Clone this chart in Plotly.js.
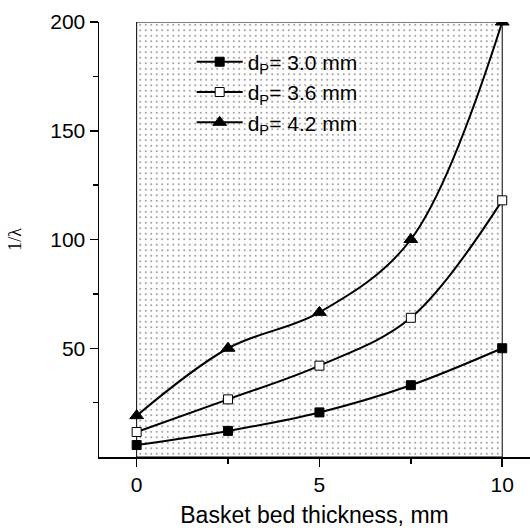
<!DOCTYPE html>
<html>
<head>
<meta charset="utf-8">
<script src="https://cdn.plot.ly/plotly-3.0.1.min.js"></script>
<style>html,body{margin:0;padding:0;background:#fff;}#chart{width:530px;height:528px;}</style>
</head>
<body>
<div id="chart"></div>
<script>
const thickness = [0, 2.5, 5, 7.5, 10];
const dp30 = [5.5, 12, 20.5, 33, 50];
const dp36 = [11.5, 26.5, 42, 64, 118];
const dp42 = [19, 50, 66.5, 100, 200];
const seriesNames = ["d<sub>P</sub>= 3.0 mm", "d<sub>P</sub>= 3.6 mm", "d<sub>P</sub>= 4.2 mm"];
const xTicks = [0, 5, 10];
const yTicks = [50, 100, 150, 200];
const boxX = [0, 10, 10, 0, 0];
const boxY = [0, 0, 200, 200, 0];

const font = "Liberation Sans, Arial, sans-serif";
const traces = [
  {x: boxX, y: boxY, mode: "lines", fill: "toself", fillcolor: "white",
   fillpattern: {shape: ".", size: 5.5, solidity: 0.06, fgcolor: "#333", bgcolor: "white"},
   line: {color: "black", width: 1}, showlegend: false, hoverinfo: "skip"},
  {x: thickness, y: dp30, name: seriesNames[0], mode: "lines+markers",
   line: {shape: "spline", color: "black", width: 2},
   marker: {symbol: "square", size: 9, color: "black", line: {color: "black", width: 1}}},
  {x: thickness, y: dp36, name: seriesNames[1], mode: "lines+markers",
   line: {shape: "spline", color: "black", width: 2},
   marker: {symbol: "square", size: 9, color: "white", line: {color: "black", width: 1}}},
  {x: thickness, y: dp42, name: seriesNames[2], mode: "lines+markers",
   line: {shape: "spline", color: "black", width: 2},
   marker: {symbol: "triangle-up", size: 12, color: "black", line: {color: "black", width: 1}}}
];

const layout = {
  width: 530, height: 528,
  margin: {l: 99, r: 0, t: 22, b: 71},
  paper_bgcolor: "white", plot_bgcolor: "white",
  font: {family: font, size: 21, color: "black"},
  showlegend: true,
  legend: {x: 0.215, y: 0.955, xanchor: "left", yanchor: "top", bgcolor: "rgba(0,0,0,0)",
           font: {family: font, size: 21}, itemwidth: 46, tracegroupgap: 0},
  xaxis: {range: [-1.03, 10.76], tickvals: xTicks, ticktext: xTicks.map(String),
          showgrid: false, zeroline: false, showline: true, linecolor: "black", linewidth: 1.5,
          ticks: "outside", ticklen: 8, tickcolor: "black", tickwidth: 1.5,
          minor: {dtick: 2.5, tick0: 0, ticks: "outside", ticklen: 5, tickcolor: "black", tickwidth: 1.5, showgrid: false},
          tickfont: {size: 21},
          title: {text: "Basket bed thickness, mm", font: {size: 23}, standoff: 12}},
  yaxis: {range: [0, 200], tickvals: yTicks, ticktext: yTicks.map(String),
          showgrid: false, zeroline: false, showline: true, linecolor: "black", linewidth: 1.5,
          ticks: "outside", ticklen: 8, tickcolor: "black", tickwidth: 1.5,
          minor: {tickvals: [25, 75, 125, 175], ticks: "outside", ticklen: 5, tickcolor: "black", tickwidth: 1.5, showgrid: false},
          tickfont: {size: 21},
          title: {text: "1/λ", font: {family: "Liberation Serif, Times New Roman, serif", size: 18}, standoff: 24}}
};

Plotly.newPlot("chart", traces, layout, {staticPlot: true, displayModeBar: false});
</script>
</body>
</html>
